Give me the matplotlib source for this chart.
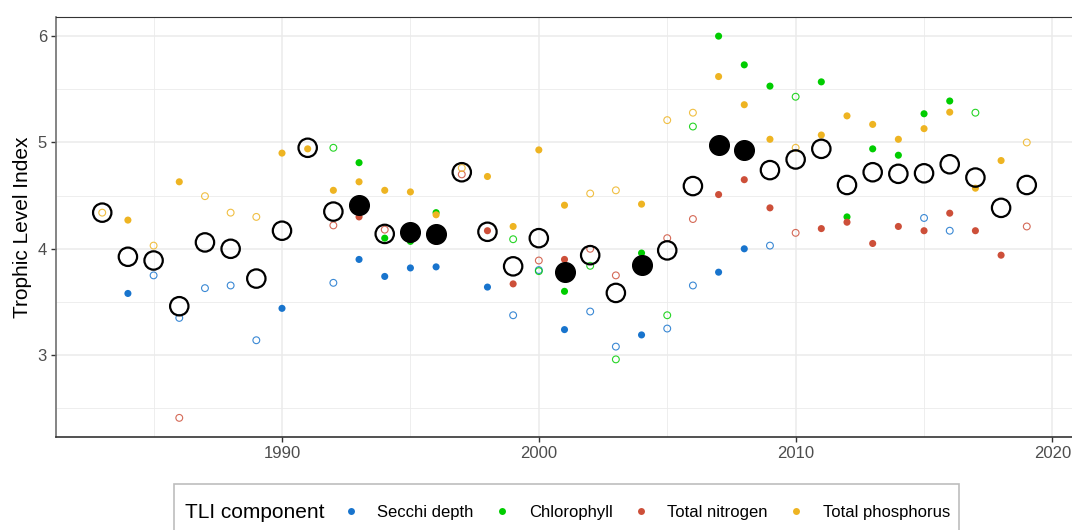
import numpy as np
import matplotlib
matplotlib.use('Agg')
import matplotlib.pyplot as plt
from matplotlib.lines import Line2D
from matplotlib.patches import Rectangle
from matplotlib.ticker import MultipleLocator

plt.rcParams['font.family'] = ['Liberation Sans', 'DejaVu Sans']

# component index values by year (fill: 1 = solid point, 0 = hollow point)
secchi_year = [1984, 1985, 1986, 1987, 1988, 1989, 1990, 1992, 1993, 1994, 1995, 1996, 1998,
               1999, 2000, 2001, 2002, 2003, 2004, 2005, 2006, 2007, 2008, 2009, 2015, 2016]
secchi_val = [3.58, 3.75, 3.35, 3.63, 3.655, 3.14, 3.44, 3.68, 3.90, 3.74, 3.82, 3.83, 3.64,
              3.375, 3.80, 3.24, 3.41, 3.08, 3.19, 3.25, 3.655, 3.78, 4.00, 4.03, 4.29, 4.17]
secchi_fill = [1, 0, 0, 0, 0, 0, 1, 0, 1, 1, 1, 1, 1,
               0, 0, 1, 0, 0, 1, 0, 0, 1, 1, 0, 0, 0]

chla_year = [1992, 1993, 1994, 1995, 1996, 1999, 2000, 2001, 2002, 2003, 2004, 2005,
             2006, 2007, 2008, 2009, 2010, 2011, 2012, 2013, 2014, 2015, 2016, 2017]
chla_val = [4.95, 4.81, 4.10, 4.07, 4.34, 4.09, 3.79, 3.60, 3.84, 2.96, 3.96, 3.375,
            5.15, 6.00, 5.73, 5.53, 5.43, 5.57, 4.30, 4.94, 4.88, 5.27, 5.39, 5.28]
chla_fill = [0, 1, 1, 1, 1, 0, 0, 1, 0, 0, 1, 0,
             0, 1, 1, 1, 0, 1, 1, 1, 1, 1, 1, 0]

tn_year = [1986, 1992, 1993, 1994, 1995, 1996, 1997, 1998, 1999, 2000, 2001, 2002, 2003,
           2004, 2005, 2006, 2007, 2008, 2009, 2010, 2011, 2012, 2013, 2014, 2015, 2016,
           2017, 2018, 2019]
tn_val = [2.41, 4.22, 4.30, 4.18, 4.21, 4.07, 4.70, 4.17, 3.67, 3.89, 3.90, 4.00, 3.75,
          3.81, 4.10, 4.28, 4.51, 4.65, 4.385, 4.15, 4.19, 4.25, 4.05, 4.21, 4.17, 4.335,
          4.17, 3.94, 4.21]
tn_fill = [0, 0, 1, 0, 1, 1, 0, 1, 1, 0, 1, 0, 0,
           1, 0, 0, 1, 1, 1, 0, 1, 1, 1, 1, 1, 1,
           1, 1, 0]

tp_year = list(range(1983, 2020))
tp_val = [4.34, 4.27, 4.03, 4.63, 4.495, 4.34, 4.30, 4.90, 4.94, 4.55, 4.63, 4.55, 4.535,
          4.32, 4.76, 4.68, 4.21, 4.93, 4.41, 4.52, 4.55, 4.42, 5.21, 5.28, 5.62, 5.355,
          5.03, 4.95, 5.07, 5.25, 5.17, 5.03, 5.13, 5.285, 4.57, 4.83, 5.00]
tp_fill = [0, 1, 0, 1, 0, 0, 0, 1, 1, 1, 1, 1, 1,
           1, 0, 1, 1, 1, 1, 0, 0, 1, 0, 0, 1, 1,
           1, 0, 1, 1, 1, 1, 1, 1, 1, 1, 0]

# annual TLI
tli_year = list(range(1983, 2020))
tli_val = [4.34, 3.925, 3.89, 3.46, 4.06, 4.00, 3.72, 4.17, 4.95, 4.35, 4.41, 4.14, 4.16,
           4.14, 4.72, 4.16, 3.835, 4.10, 3.78, 3.94, 3.585, 3.845, 3.985, 4.59, 4.975, 4.93,
           4.74, 4.84, 4.94, 4.60, 4.72, 4.705, 4.71, 4.795, 4.67, 4.385, 4.60]
tli_fill = [0, 0, 0, 0, 0, 0, 0, 0, 0, 0, 1, 0, 1,
            1, 0, 0, 0, 0, 1, 0, 0, 1, 0, 0, 1, 1,
            0, 0, 0, 0, 0, 0, 0, 0, 0, 0, 0]

components = [
    ('Secchi depth', secchi_year, secchi_val, secchi_fill, '#1874CD'),
    ('Chlorophyll', chla_year, chla_val, chla_fill, '#00CD00'),
    ('Total nitrogen', tn_year, tn_val, tn_fill, '#CD4F39'),
    ('Total phosphorus', tp_year, tp_val, tp_fill, '#EEB422'),
]

W, H = 1072, 530
fig = plt.figure(figsize=(W / 100, H / 100), dpi=100)
ax = fig.add_axes([56 / W, (H - 437) / H, (1073 - 56) / W, (437 - 17) / H])

for name, yr, val, fill, col in components:
    yr = np.array(yr)
    val = np.array(val)
    fill = np.array(fill, dtype=bool)
    ax.scatter(yr[fill], val[fill], s=26, color=col, edgecolors='none', zorder=3)
    ax.scatter(yr[~fill], val[~fill], s=24, facecolors='none', edgecolors=col,
               linewidths=0.8, alpha=0.85, zorder=3)

ty = np.array(tli_year)
tv = np.array(tli_val)
tf = np.array(tli_fill, dtype=bool)
ax.scatter(ty[~tf], tv[~tf], s=175, facecolors='none', edgecolors='black',
           linewidths=1.6, zorder=4)
ax.scatter(ty[tf], tv[tf], s=200, color='black', edgecolors='black',
           linewidths=1.0, zorder=4)

ax.set_xlim(1981.2, 2020.8)
ax.set_ylim(2.23, 6.18)
ax.xaxis.set_major_locator(MultipleLocator(10))
ax.xaxis.set_minor_locator(MultipleLocator(5))
ax.yaxis.set_major_locator(MultipleLocator(1))
ax.yaxis.set_minor_locator(MultipleLocator(0.5))
ax.grid(which='major', color='#EBEBEB', linewidth=1.1)
ax.grid(which='minor', color='#EBEBEB', linewidth=0.6)
ax.set_axisbelow(True)
ax.tick_params(which='major', length=3.5, width=1.0, color='#333333',
               labelsize=12, labelcolor='#4D4D4D', pad=3)
ax.tick_params(which='minor', length=0)
ax.spines['left'].set_color('#707070')
ax.spines['bottom'].set_color('#333333')
ax.spines['top'].set_color('#333333')
ax.spines['right'].set_visible(False)
for sp in ('left', 'bottom'):
    ax.spines[sp].set_linewidth(1.2)
ax.spines['top'].set_linewidth(0.8)
ax.set_ylabel('Trophic Level Index', fontsize=15, color='black', labelpad=4)

# legend strip along the bottom
fig.add_artist(Rectangle((174 / W, -0.05), (959 - 174) / W, (H - 484) / H + 0.05,
                         transform=fig.transFigure, facecolor='white',
                         edgecolor='#BDBDBD', linewidth=1.2, clip_on=False))
fig.text(185 / W, (H - 512) / H, 'TLI component', fontsize=15, ha='left', va='center')
handles = [Line2D([], [], linestyle='none', marker='o', markersize=5,
                  markerfacecolor=c[4], markeredgecolor='none') for c in components]
fig.legend(handles, [c[0] for c in components], loc='center left',
           bbox_to_anchor=(344 / W, (H - 512) / H), ncol=4, frameon=False, fontsize=12,
           handlelength=0.8, handletextpad=1.2, columnspacing=1.3,
           borderpad=0, borderaxespad=0)

fig.savefig('out.png', dpi=100)
